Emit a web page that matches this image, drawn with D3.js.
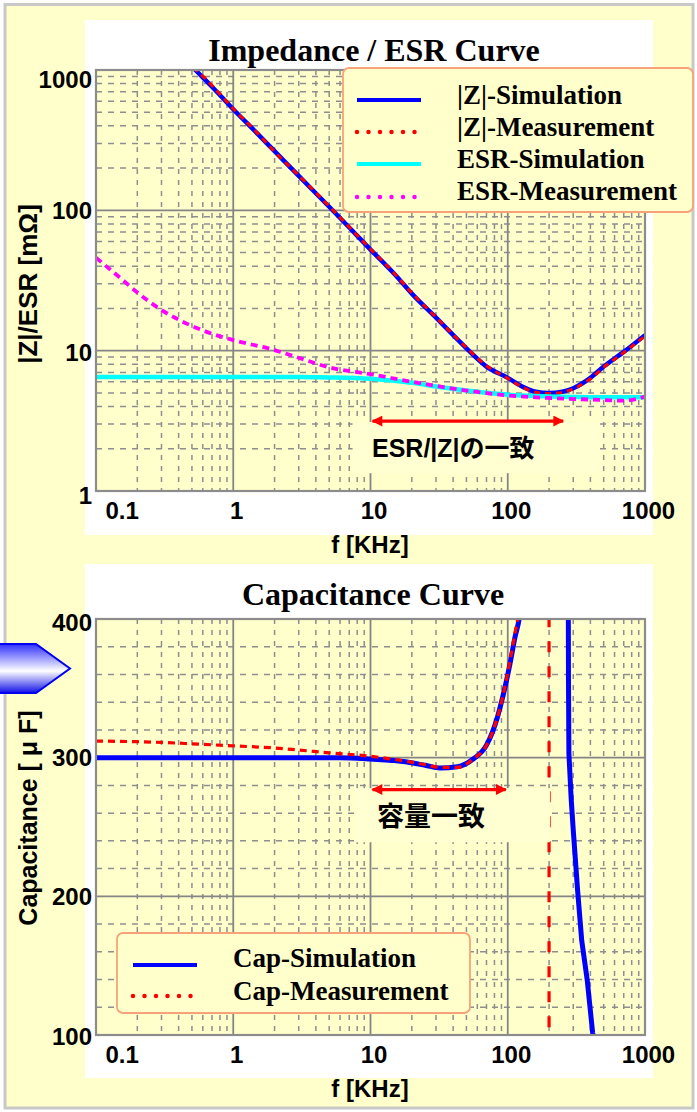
<!DOCTYPE html>
<html><head><meta charset="utf-8">
<script src="https://cdn.jsdelivr.net/npm/d3@7"></script>
<style>body{margin:0;background:#fff}</style>
</head><body>
<svg id="c" width="697" height="1112"></svg>
<script>
// ---------------- DATA ----------------
const xTicks = [0.1, 1, 10, 100, 1000];
const yTicksZ = [1, 10, 100, 1000];
const yTicksC = [100, 200, 300, 400];

// |Z| (mOhm) vs f (kHz)
const zSimFreq = [0.45, 0.53, 0.7, 1, 1.5, 2, 3, 5, 7, 10, 15, 20, 30, 50, 70, 100, 130, 160, 200, 250, 300, 400, 500, 700, 1000];
const zSim     = [1180, 1000, 760, 525, 352, 264, 176, 106, 75.5, 52.5, 35, 25.5, 17.2, 10.4, 7.7, 6.4, 5.5, 5.1, 5.0, 5.1, 5.4, 6.4, 7.7, 9.8, 12.9];
const zMeasFreq = [0.45, 0.53, 0.6, 0.7, 1, 1.5, 2, 3, 5, 7, 10, 15, 20, 30, 50, 70, 100, 130, 160, 200, 250, 300, 400, 500, 700, 1000];
const zMeas     = [1190, 1010, 905, 775, 530, 355, 262, 177, 107, 76, 53, 35.3, 25.8, 17.3, 10.5, 7.8, 6.35, 5.45, 5.05, 4.95, 5.05, 5.35, 6.3, 7.6, 9.7, 12.7];

// ESR (mOhm)
const esrSimFreq = [0.1, 0.3, 1, 3, 5, 10, 20, 30, 50, 100, 200, 300, 500, 1000];
const esrSim     = [6.5, 6.5, 6.5, 6.5, 6.45, 6.3, 5.9, 5.55, 5.2, 4.85, 4.72, 4.68, 4.65, 4.65];
const esrMeasFreq = [0.1, 0.15, 0.2, 0.3, 0.5, 0.7, 1, 2, 3, 5, 10, 20, 50, 100, 200, 500, 700, 1000];
const esrMeas     = [46, 33, 26, 19.5, 15, 13.2, 11.9, 10.1, 8.9, 7.6, 6.8, 6.0, 5.2, 4.8, 4.6, 4.45, 4.4, 4.7];

// Capacitance (uF)
const capSimFreq = [0.1, 1, 3, 6, 10, 18, 25, 32, 43, 56, 70, 84, 92, 104, 113, 121, 128];
const capSim     = [300, 300, 300, 300, 299, 297, 294.5, 292.5, 293.5, 299, 309, 329, 344, 368, 387, 400, 420];
const capSim2Freq = [276, 277, 279, 290, 300, 323, 346, 379, 415, 430];
const capSim2     = [420, 356, 303, 270, 248, 204, 168, 140, 102, 90];
const capMeasFreq = [0.1, 0.2, 0.3, 0.5, 1, 2, 3, 5, 10, 18, 25, 32, 43, 56, 70, 84, 92, 104, 113, 119, 125];
const capMeas     = [312, 311.5, 311, 310, 308.5, 307, 305.5, 303.5, 301, 297.5, 295, 293, 293, 299, 309, 329, 344, 370, 390, 402, 420];
const capMeas2Freq = [200, 200];
const capMeas2     = [420, 80];

// annotations (data coords)
const annZ = {f0: 10, f1: 262, y: 3.15, bx0: 7.4, bx1: 470, by0: 3.1, by1: 1.34, text: "ESR/|Z|の一致"};
const annC = {f0: 10, f1: 100, y: 277, bx0: 7.6, bx1: 203, by0: 278, by1: 239, text: "容量一致"};

// ---------------- DRAW ----------------
const svg = d3.select("#c");
const SANS = "'Liberation Sans', Arial, 'Noto Sans CJK JP', sans-serif";
const SERIF = "'Liberation Serif', 'Times New Roman', serif";
const BG = "#FFFFCC";

const defs = svg.append("defs");
const g1 = defs.append("linearGradient").attr("id","arrowGrad").attr("x1",0).attr("y1",0).attr("x2",0).attr("y2",1);
g1.append("stop").attr("offset","0%").attr("stop-color","#3030ff");
g1.append("stop").attr("offset","55%").attr("stop-color","#ffffff");
g1.append("stop").attr("offset","100%").attr("stop-color","#1010e8");
const mk = defs.append("marker").attr("id","redHead").attr("viewBox","0 0 10 10").attr("refX",9).attr("refY",5)
  .attr("markerWidth",4).attr("markerHeight",3.4).attr("orient","auto-start-reverse").attr("markerUnits","strokeWidth");
mk.append("path").attr("d","M0,0 L10,5 L0,10 Z").attr("fill","#ff0000");

// outer background + border
svg.append("rect").attr("x",5).attr("y",4.5).attr("width",688).attr("height",1103.5)
  .attr("fill",BG).attr("stroke","#c8c8c8").attr("stroke-width",3);

// white panels
svg.append("rect").attr("x",85).attr("y",20).attr("width",568).attr("height",515).attr("fill","#fff");
svg.append("rect").attr("x",85).attr("y",564).attr("width",568).attr("height",514).attr("fill","#fff");

const X0 = 96, X1 = 645;

function gridAndFrame(g, x, y, minorY, majorY, top, bottom) {
  g.append("rect").attr("x",X0).attr("y",top).attr("width",X1-X0).attr("height",bottom-top).attr("fill",BG);
  const xs = x.ticks();
  const minorX = xs.filter(d => Math.abs(Math.log10(d) - Math.round(Math.log10(d))) > 1e-6);
  const majorX = xs.filter(d => Math.abs(Math.log10(d) - Math.round(Math.log10(d))) < 1e-6 && x(d) > X0+2 && x(d) < X1-2);
  g.selectAll(".mx").data(minorX).join("line").attr("x1",x).attr("x2",x).attr("y1",top).attr("y2",bottom)
    .attr("stroke","#8e8e8e").attr("stroke-width",1.5).attr("stroke-dasharray","5,6");
  g.selectAll(".my").data(minorY).join("line").attr("y1",y).attr("y2",y).attr("x1",X0).attr("x2",X1)
    .attr("stroke","#8e8e8e").attr("stroke-width",1.5).attr("stroke-dasharray","6,6");
  g.selectAll(".Mx").data(majorX).join("line").attr("x1",x).attr("x2",x).attr("y1",top).attr("y2",bottom)
    .attr("stroke","#858585").attr("stroke-width",1.8);
  g.selectAll(".My").data(majorY).join("line").attr("y1",y).attr("y2",y).attr("x1",X0).attr("x2",X1)
    .attr("stroke","#858585").attr("stroke-width",1.8);
}

function frame(g, top, bottom) {
  g.append("rect").attr("x",X0).attr("y",top).attr("width",X1-X0).attr("height",bottom-top)
    .attr("fill","none").attr("stroke","#8c8c8c").attr("stroke-width",2.2);
}

function xAxis(g, x, bottom) {
  const ax = g.append("g").attr("transform",`translate(0,${bottom})`)
    .call(d3.axisBottom(x).tickValues(xTicks).tickSize(0).tickPadding(11).tickFormat(d3.format("~g")));
  ax.select(".domain").remove();
  ax.selectAll("text").attr("font-family",SANS).attr("font-weight","bold").attr("font-size",24).attr("fill","#000")
    .attr("dx", (d,i) => i === 0 ? 9 : 3).attr("text-anchor", (d,i) => i === 0 ? "start" : "middle");
}
function yAxis(g, y, fmt) {
  const ax = g.append("g").attr("transform",`translate(${X0},0)`)
    .call(d3.axisLeft(y).tickValues(fmt.vals).tickSize(0).tickPadding(4).tickFormat(d3.format("~g")));
  ax.select(".domain").remove();
  ax.selectAll("text").attr("font-family",SANS).attr("font-weight","bold").attr("font-size",24).attr("fill","#000")
    .attr("transform", (d,i) => `translate(0,${fmt.shift[i]})`);
}

function clip(id, top, bottom) {
  defs.append("clipPath").attr("id",id).append("rect").attr("x",X0).attr("y",top).attr("width",X1-X0).attr("height",bottom-top);
}

function series(g, x, y, fr, vals, color, width, dash, smooth) {
  const pts = fr.map((f,i) => [f, vals[i]]);
  const line = d3.line().x(d => x(d[0])).y(d => y(d[1]));
  if (smooth) line.curve(d3.curveMonotoneX);
  const p = g.append("path").datum(pts).attr("fill","none").attr("stroke",color).attr("stroke-width",width)
    .attr("stroke-linejoin","round").attr("d", line);
  if (dash) p.attr("stroke-dasharray",dash);
}

function legend(g, x0, y0, w, h, items, textX, lineX0, lineX1, fs) {
  g.append("rect").attr("x",x0).attr("y",y0).attr("width",w).attr("height",h).attr("rx",6)
    .attr("fill",BG).attr("stroke","#F7A37A").attr("stroke-width",1.8);
  items.forEach(it => {
    const l = g.append("line").attr("x1",lineX0).attr("x2",lineX1).attr("y1",it.y).attr("y2",it.y)
      .attr("stroke",it.color);
    if (it.dotted) l.attr("stroke-width",4.5).attr("stroke-linecap","round").attr("stroke-dasharray","0,11.5");
    else l.attr("stroke-width",4);
    g.append("text").attr("x",textX).attr("y",it.ty).text(it.label)
      .attr("font-family",SERIF).attr("font-weight","bold").attr("font-size",fs).attr("fill","#000");
  });
}

function annotation(g, x, y, a, textX, textY, fs) {
  g.append("rect").attr("x",x(a.bx0)).attr("y",y(a.by0)).attr("width",x(a.bx1)-x(a.bx0)).attr("height",y(a.by1)-y(a.by0))
    .attr("fill","#FFFFD2");
  g.append("line").attr("x1",x(a.f0)+2).attr("x2",x(a.f1)-2).attr("y1",y(a.y)).attr("y2",y(a.y))
    .attr("stroke","#ff0000").attr("stroke-width",3.2)
    .attr("marker-start","url(#redHead)").attr("marker-end","url(#redHead)");
  g.append("text").attr("x",textX).attr("y",textY).text(a.text)
    .attr("font-family",SANS).attr("font-weight","bold").attr("font-size",fs).attr("fill","#000");
}

// ---- Top chart ----
{
  const top = 70, bottom = 491;
  const x = d3.scaleLog().domain([0.1,1000]).range([X0,X1]);
  const y = d3.scaleLog().domain([1,1000]).range([bottom,top]);
  const g = svg.append("g");
  const ys = y.ticks();
  const minorY = ys.filter(d => Math.abs(Math.log10(d) - Math.round(Math.log10(d))) > 1e-6);
  const majorY = [10, 100];
  gridAndFrame(g, x, y, minorY, majorY, top, bottom);
  clip("clipTop", top, bottom);
  const s = g.append("g").attr("clip-path","url(#clipTop)");
  series(s, x, y, zSimFreq, zSim, "#0000ff", 4.5, null, true);
  series(s, x, y, zMeasFreq, zMeas, "#ff0000", 3, "6,5", true);
  series(s, x, y, esrSimFreq, esrSim, "#00ffff", 4.5, null, true);
  series(s, x, y, esrMeasFreq, esrMeas, "#ff00ff", 3.8, "7,5", true);
  annotation(g, x, y, annZ, 372, 457, 25);
  frame(g, top, bottom);
  xAxis(g, x, bottom);
  yAxis(g, y, {vals: yTicksZ, shift: [5, 2, 0, 10]});
  g.append("text").attr("x",374).attr("y",61).attr("text-anchor","middle").text("Impedance / ESR Curve")
    .attr("font-family",SERIF).attr("font-weight","bold").attr("font-size",32);
  g.append("text").attr("x",370).attr("y",553).attr("text-anchor","middle").text("f [KHz]")
    .attr("font-family",SANS).attr("font-weight","bold").attr("font-size",24);
  g.append("text").attr("transform","translate(37,284) rotate(-90)").attr("text-anchor","middle").text("|Z|/ESR [mΩ]")
    .attr("font-family",SANS).attr("font-weight","bold").attr("font-size",26);
  legend(g, 343, 68, 350, 144, [
    {label:"|Z|-Simulation", color:"#0000ff", y:100, ty:104},
    {label:"|Z|-Measurement", color:"#ff0000", dotted:true, y:132, ty:136},
    {label:"ESR-Simulation", color:"#00ffff", y:164, ty:168},
    {label:"ESR-Measurement", color:"#ff00ff", dotted:true, y:197, ty:200}
  ], 457, 357, 421, 27);
}

// ---- Bottom chart ----
{
  const top = 619, bottom = 1035;
  const x = d3.scaleLog().domain([0.1,1000]).range([X0,X1]);
  const y = d3.scaleLinear().domain([100,400]).range([bottom,top]);
  const g = svg.append("g");
  const minorY = y.ticks(15).filter(d => d % 100 !== 0);
  const majorY = [200, 300];
  gridAndFrame(g, x, y, minorY, majorY, top, bottom);
  clip("clipBot", top, bottom);
  const s = g.append("g").attr("clip-path","url(#clipBot)");
  series(s, x, y, capSimFreq, capSim, "#0000ff", 5, null, true);
  series(s, x, y, capSim2Freq, capSim2, "#0000ff", 5);
  series(s, x, y, capMeasFreq, capMeas, "#ff0000", 3.2, "7,5", true);
  series(s, x, y, capMeas2Freq, capMeas2, "#ff0000", 3.2, "11,14");
  annotation(g, x, y, annC, 377, 826, 27);
  frame(g, top, bottom);
  xAxis(g, x, bottom);
  yAxis(g, y, {vals: yTicksC, shift: [2, 0, 0, 4]});
  g.append("text").attr("x",373).attr("y",605).attr("text-anchor","middle").text("Capacitance Curve")
    .attr("font-family",SERIF).attr("font-weight","bold").attr("font-size",32);
  g.append("text").attr("x",370).attr("y",1097).attr("text-anchor","middle").text("f [KHz]")
    .attr("font-family",SANS).attr("font-weight","bold").attr("font-size",24);
  g.append("text").attr("transform","translate(37,818) rotate(-90)").attr("text-anchor","middle").text("Capacitance [ μ F]")
    .attr("font-family",SANS).attr("font-weight","bold").attr("font-size",25);
  legend(g, 117, 933, 353, 80, [
    {label:"Cap-Simulation", color:"#0000ff", y:965, ty:967},
    {label:"Cap-Measurement", color:"#ff0000", dotted:true, y:996, ty:1000}
  ], 233, 133, 197, 27);
}

// left pointer arrow
svg.append("path").attr("d","M-2,644 L36,644 L70,668.5 L36,693 L-2,693 Z")
  .attr("fill","url(#arrowGrad)").attr("stroke","#0000ee").attr("stroke-width",2);
</script>
</body></html>
